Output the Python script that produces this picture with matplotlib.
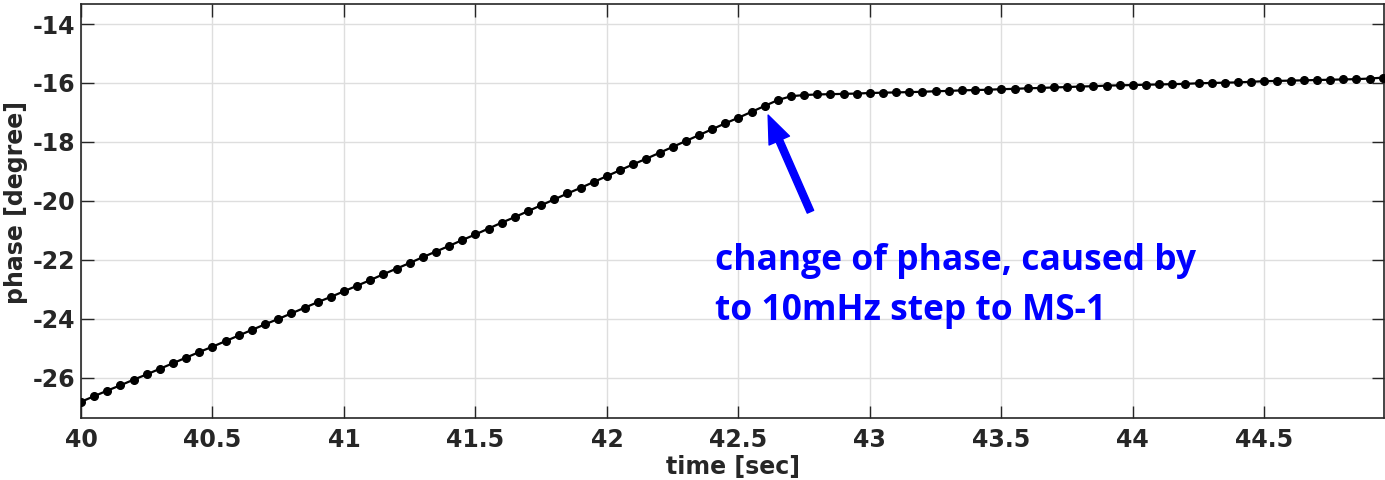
import numpy as np
import matplotlib
matplotlib.use("Agg")
import matplotlib.pyplot as plt

# sample times [sec]
time_sec = [
    40.00, 40.05, 40.10, 40.15, 40.20, 40.25, 40.30, 40.35, 40.40, 40.45,
    40.50, 40.55, 40.60, 40.65, 40.70, 40.75, 40.80, 40.85, 40.90, 40.95,
    41.00, 41.05, 41.10, 41.15, 41.20, 41.25, 41.30, 41.35, 41.40, 41.45,
    41.50, 41.55, 41.60, 41.65, 41.70, 41.75, 41.80, 41.85, 41.90, 41.95,
    42.00, 42.05, 42.10, 42.15, 42.20, 42.25, 42.30, 42.35, 42.40, 42.45,
    42.50, 42.55, 42.60, 42.65, 42.70, 42.75, 42.80, 42.85, 42.90, 42.95,
    43.00, 43.05, 43.10, 43.15, 43.20, 43.25, 43.30, 43.35, 43.40, 43.45,
    43.50, 43.55, 43.60, 43.65, 43.70, 43.75, 43.80, 43.85, 43.90, 43.95,
    44.00, 44.05, 44.10, 44.15, 44.20, 44.25, 44.30, 44.35, 44.40, 44.45,
    44.50, 44.55, 44.60, 44.65, 44.70, 44.75, 44.80, 44.85, 44.90, 44.95,
]

# phase [degree]
phase_deg = [
    -26.82, -26.63, -26.44, -26.26, -26.07, -25.89, -25.70, -25.51, -25.32, -25.13,
    -24.95, -24.76, -24.57, -24.38, -24.19, -24.01, -23.82, -23.63, -23.44, -23.26,
    -23.07, -22.88, -22.69, -22.49, -22.30, -22.11, -21.91, -21.72, -21.53, -21.33,
    -21.14, -20.94, -20.74, -20.55, -20.35, -20.15, -19.95, -19.75, -19.56, -19.36,
    -19.16, -18.96, -18.76, -18.57, -18.37, -18.17, -17.97, -17.77, -17.57, -17.37,
    -17.18, -16.98, -16.78, -16.58, -16.45, -16.41, -16.39, -16.38, -16.37, -16.36,
    -16.34, -16.33, -16.32, -16.31, -16.30, -16.28, -16.27, -16.25, -16.24, -16.23,
    -16.21, -16.20, -16.18, -16.17, -16.15, -16.14, -16.12, -16.11, -16.09, -16.08,
    -16.07, -16.06, -16.05, -16.04, -16.03, -16.01, -16.00, -15.99, -15.98, -15.96,
    -15.94, -15.93, -15.92, -15.91, -15.90, -15.89, -15.88, -15.87, -15.85, -15.82,
]

x_ticks = [40, 40.5, 41, 41.5, 42, 42.5, 43, 43.5, 44, 44.5]
x_tick_labels = ["40", "40.5", "41", "41.5", "42", "42.5", "43", "43.5", "44", "44.5"]
y_ticks = [-26, -24, -22, -20, -18, -16, -14]
y_tick_labels = ["-26", "-24", "-22", "-20", "-18", "-16", "-14"]

annot_line1 = "change of phase, caused by"
annot_line2 = "to 10mHz step to MS-1"

W, H, DPI = 1385, 480, 100
fig = plt.figure(figsize=(W / DPI, H / DPI), dpi=DPI)
ax = fig.add_axes([81 / W, (H - 418) / H, (1384 - 81) / W, (418 - 4) / H])

dark = "#262626"
ax.plot(time_sec, phase_deg, color="black", lw=1.6, marker="o", ms=5.5,
        mfc="black", mec="black", clip_on=True, zorder=3)

ax.set_xlim(40, 44.955)
ax.set_ylim(-27.37, -13.32)
ax.set_xticks(x_ticks)
ax.set_xticklabels(x_tick_labels)
ax.set_yticks(y_ticks)
ax.set_yticklabels(y_tick_labels)

ax.grid(True, color="#dedede", lw=1.0)
ax.set_axisbelow(True)
for s in ax.spines.values():
    s.set_color(dark)
    s.set_linewidth(1.2)

ax.tick_params(direction="in", length=9, width=1.0, color=dark,
               top=True, right=True, labelsize=17, labelcolor=dark)
ax.tick_params(axis="y", pad=4)
ax.tick_params(axis="x", pad=7)
for lab in ax.get_xticklabels() + ax.get_yticklabels():
    lab.set_fontweight("bold")

ax.set_xlabel("time [sec]", fontsize=17, fontweight="bold", color=dark, labelpad=2)
ax.set_ylabel("phase [degree]", fontsize=17, fontweight="bold", color=dark)
ax.yaxis.set_label_coords(-0.0405, 0.52)

ax.annotate("", xy=(42.613, -17.09), xytext=(42.774, -20.37),
            arrowprops=dict(facecolor="#0000ff", edgecolor="#0000ff",
                            width=5, headwidth=16, headlength=20, shrink=0))

ax.text(42.41, -22.35, annot_line1, color="#0000ff", fontsize=25.5,
        fontweight="bold", family="Open Sans", va="baseline", ha="left")
ax.text(42.41, -24.05, annot_line2, color="#0000ff", fontsize=25.5,
        fontweight="bold", family="Open Sans", va="baseline", ha="left")

fig.savefig("out.png", dpi=DPI)
